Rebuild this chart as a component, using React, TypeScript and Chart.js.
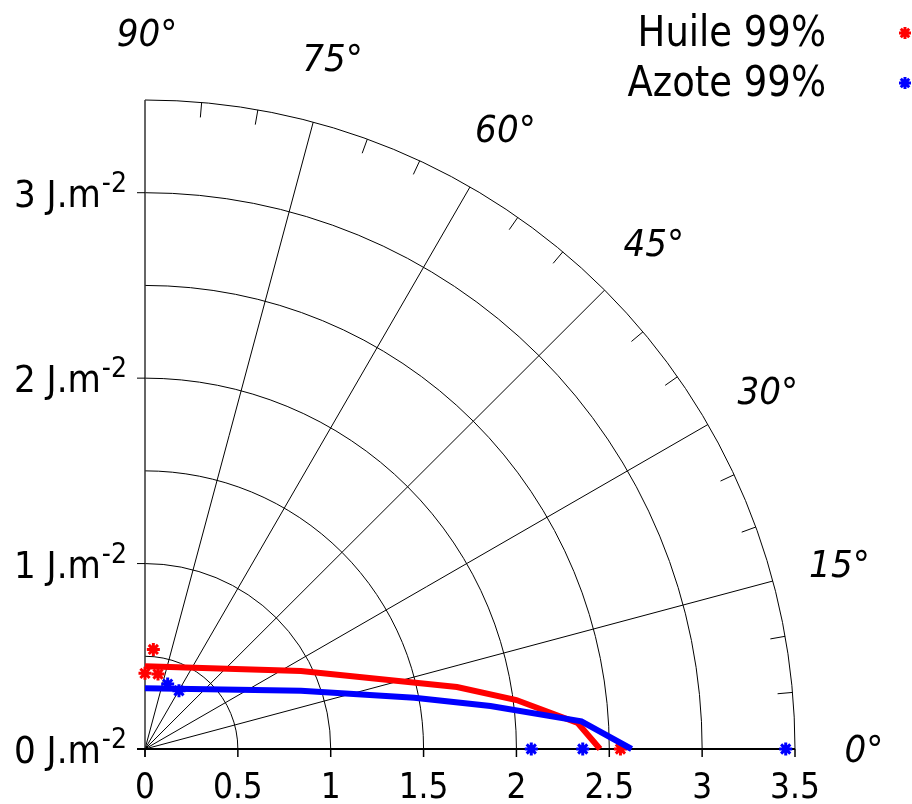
import React, { useEffect, useRef } from 'react';
import { Chart, registerables } from 'chart.js';

Chart.register(...registerables);

// ---- data ----
const HUILE_LINE_X = [0, 0.84, 1.68, 2.0, 2.33, 2.45];
const HUILE_LINE_Y = [0.446, 0.421, 0.334, 0.264, 0.14, 0];
const AZOTE_LINE_X = [0, 0.84, 1.45, 1.86, 2.35, 2.62];
const AZOTE_LINE_Y = [0.327, 0.314, 0.276, 0.232, 0.149, 0];
const HUILE_PTS_X = [0, 0.07, 0.045, 2.56];
const HUILE_PTS_Y = [0.408, 0.404, 0.537, 0];
const AZOTE_PTS_X = [0.122, 0.183, 2.08, 2.357, 3.45];
const AZOTE_PTS_Y = [0.35, 0.314, 0, 0, 0];

const RADII = [0.5, 1, 1.5, 2, 2.5, 3, 3.5];
const ANGLES = [0, 15, 30, 45, 60, 75, 90];
const X_TICKS = [0, 0.5, 1, 1.5, 2, 2.5, 3, 3.5];
const X_LABELS = ['0', '0.5', '1', '1.5', '2', '2.5', '3', '3.5'];
const Y_TICKS = [0, 1, 2, 3];
const Y_LABELS = ['0 J.m', '1 J.m', '2 J.m', '3 J.m'];
const Y_SUP = '-2';
const SERIES_NAMES = ['Huile 99%', 'Azote 99%'];
const SERIES_COLORS = ['#ff0000', '#0000ff'];

const R_MAX = 3.5;
const FONT = '"DejaVu Sans", Verdana, sans-serif';

function zip(xs: number[], ys: number[]) {
  return xs.map((x, i) => ({ x, y: ys[i] }));
}

function txt(
  ctx: CanvasRenderingContext2D,
  s: string,
  x: number,
  y: number,
  size: number,
  h: number,
  align: CanvasTextAlign,
  baseline: CanvasTextBaseline = 'alphabetic',
  italic = false
) {
  ctx.save();
  ctx.font = `${italic ? 'italic ' : ''}${size}px ${FONT}`;
  ctx.textAlign = align;
  ctx.textBaseline = baseline;
  ctx.fillStyle = '#000';
  ctx.translate(x, y);
  ctx.scale(h, 1);
  ctx.fillText(s, 0, 0);
  ctx.restore();
}

function drawStar(ctx: CanvasRenderingContext2D, x: number, y: number, r: number, color: string) {
  ctx.save();
  ctx.strokeStyle = color;
  ctx.lineWidth = 3;
  ctx.beginPath();
  for (let k = 0; k < 4; k++) {
    const a = (k * Math.PI) / 4;
    ctx.moveTo(x - r * Math.cos(a), y - r * Math.sin(a));
    ctx.lineTo(x + r * Math.cos(a), y + r * Math.sin(a));
  }
  ctx.stroke();
  ctx.restore();
}

const polarGrid = {
  id: 'polarGrid',
  beforeDatasetsDraw(chart: any) {
    const ctx: CanvasRenderingContext2D = chart.ctx;
    const xs = chart.scales.x;
    const ys = chart.scales.y;
    const ox = xs.getPixelForValue(0);
    const oy = ys.getPixelForValue(0);
    const kx = xs.getPixelForValue(1) - ox;
    const ky = oy - ys.getPixelForValue(1);
    ctx.save();
    ctx.strokeStyle = '#000';
    ctx.lineWidth = 1;
    // arcs
    RADII.forEach((r) => {
      ctx.beginPath();
      ctx.ellipse(ox, oy, r * kx, r * ky, 0, -Math.PI / 2, 0);
      ctx.stroke();
    });
    // radial lines
    ANGLES.forEach((a) => {
      if (a === 0 || a === 90) return;
      const t = (a * Math.PI) / 180;
      ctx.beginPath();
      ctx.moveTo(ox, oy);
      ctx.lineTo(ox + R_MAX * kx * Math.cos(t), oy - R_MAX * ky * Math.sin(t));
      ctx.stroke();
    });
    // outer minor ticks every 5 degrees
    for (let a = 5; a < 90; a += 5) {
      if (a % 15 === 0) continue;
      const t = (a * Math.PI) / 180;
      const c = Math.cos(t), s = Math.sin(t);
      ctx.beginPath();
      ctx.moveTo(ox + R_MAX * kx * c, oy - R_MAX * ky * s);
      ctx.lineTo(ox + (R_MAX * kx - 15) * c, oy - (R_MAX * ky - 15) * s);
      ctx.stroke();
    }
    // y axis
    ctx.strokeStyle = '#333';
    ctx.lineWidth = 1.5;
    ctx.beginPath();
    ctx.moveTo(ox, oy + 8);
    ctx.lineTo(ox, ys.getPixelForValue(R_MAX));
    ctx.stroke();
    // y ticks
    ctx.strokeStyle = '#000';
    ctx.lineWidth = 1;
    Y_TICKS.forEach((v) => {
      const py = ys.getPixelForValue(v);
      ctx.beginPath();
      ctx.moveTo(ox - 8, py);
      ctx.lineTo(ox, py);
      ctx.stroke();
    });
    // x axis
    ctx.lineWidth = 2;
    ctx.beginPath();
    ctx.moveTo(ox - 8, oy);
    ctx.lineTo(xs.getPixelForValue(R_MAX), oy);
    ctx.stroke();
    ctx.lineWidth = 1.5;
    X_TICKS.forEach((v) => {
      const px = xs.getPixelForValue(v);
      ctx.beginPath();
      ctx.moveTo(px, oy);
      ctx.lineTo(px, oy + 8);
      ctx.stroke();
    });
    // x labels
    X_TICKS.forEach((v, i) => {
      txt(ctx, X_LABELS[i], xs.getPixelForValue(v), oy + 49, 36, 0.87, 'center');
    });
    // y labels with superscript
    Y_TICKS.forEach((v, i) => {
      const py = ys.getPixelForValue(v);
      const rightX = 127;
      const supSize = 28, supH = 0.9;
      ctx.font = `${supSize}px ${FONT}`;
      const supW = ctx.measureText(Y_SUP).width * supH;
      txt(ctx, Y_SUP, rightX, py - 1, supSize, supH, 'right');
      txt(ctx, Y_LABELS[i], rightX - supW - 1, py + 14, 38, 0.9, 'right');
    });
    // angle labels
    const rl = 3.86;
    ANGLES.forEach((a) => {
      const t = (a * Math.PI) / 180;
      txt(ctx, `${a}°`, ox + rl * kx * Math.cos(t) + 2, oy - rl * ky * Math.sin(t) + 3, 38, 0.9, 'center', 'middle', true);
    });
    ctx.restore();
  },
  afterDraw(chart: any) {
    const ctx: CanvasRenderingContext2D = chart.ctx;
    SERIES_NAMES.forEach((name, i) => {
      const y = 35 + i * 50;
      txt(ctx, name, 826, y, 42, 0.88, 'right', 'middle');
      drawStar(ctx, 905, y - 2, 6, SERIES_COLORS[i]);
    });
  },
};

export default function App() {
  const ref = useRef<HTMLCanvasElement>(null);
  useEffect(() => {
    if (!ref.current) return;
    const chart = new Chart(ref.current, {
      type: 'scatter',
      data: {
        datasets: [
          {
            label: 'Azote line',
            data: zip(AZOTE_LINE_X, AZOTE_LINE_Y),
            showLine: true,
            borderColor: SERIES_COLORS[1],
            borderWidth: 6,
            pointRadius: 0,
            clip: false,
          },
          {
            label: 'Huile line',
            data: zip(HUILE_LINE_X, HUILE_LINE_Y),
            showLine: true,
            borderColor: SERIES_COLORS[0],
            borderWidth: 6,
            pointRadius: 0,
            clip: false,
          },
          {
            label: SERIES_NAMES[0],
            data: zip(HUILE_PTS_X, HUILE_PTS_Y),
            showLine: false,
            pointStyle: 'star',
            pointRadius: 6.5,
            borderWidth: 3,
            borderColor: SERIES_COLORS[0],
            backgroundColor: SERIES_COLORS[0],
            clip: false,
          },
          {
            label: SERIES_NAMES[1],
            data: zip(AZOTE_PTS_X, AZOTE_PTS_Y),
            showLine: false,
            pointStyle: 'star',
            pointRadius: 6.5,
            borderWidth: 3,
            borderColor: SERIES_COLORS[1],
            backgroundColor: SERIES_COLORS[1],
            clip: false,
          },
        ] as any,
      },
      options: {
        responsive: false,
        animation: false,
        layout: { padding: { left: 145, right: 117, top: 100, bottom: 55 } },
        scales: {
          x: { type: 'linear', min: 0, max: 3.5, display: false },
          y: { type: 'linear', min: 0, max: 3.5, display: false },
        },
        plugins: {
          legend: { display: false },
          tooltip: { enabled: false },
        },
      },
      plugins: [polarGrid],
    });
    return () => chart.destroy();
  }, []);
  return (
    <div style={{ position: 'absolute', left: 0, top: 0, width: 912, height: 804, background: '#fff' }}>
      <canvas ref={ref} width={912} height={804} style={{ display: 'block' }} />
    </div>
  );
}
